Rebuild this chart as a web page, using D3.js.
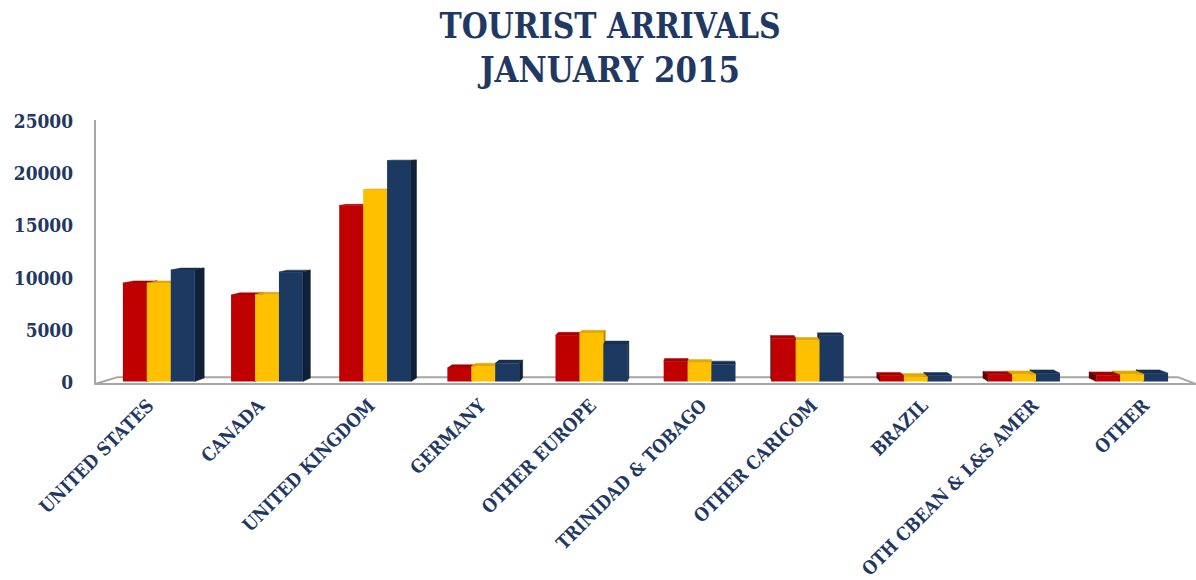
<!DOCTYPE html>
<html>
<head>
<meta charset="utf-8">
<script src="https://cdn.jsdelivr.net/npm/d3@7"></script>
<style>
  body { margin: 0; background: #fff; }
  .chart text { font-family: "DejaVu Serif", serif; font-weight: bold; fill: #1f3864; }
</style>
</head>
<body>
<div class="chart"></div>
<script>
// 資料
const categories = ["UNITED STATES", "CANADA", "UNITED KINGDOM", "GERMANY", "OTHER EUROPE",
  "TRINIDAD & TOBAGO", "OTHER CARICOM", "BRAZIL", "OTH CBEAN & L&S AMER", "OTHER"]
// three series (no legend in the source chart)
const series1 = [9450, 8300, 16900, 1300, 4450, 1900, 4150, 550, 650, 600]
const series2 = [9450, 8350, 18400, 1450, 4650, 1800, 3950, 450, 700, 700]
const series3 = [10700, 10500, 21200, 1750, 3600, 1650, 4400, 550, 800, 800]
const yTicks = [0, 5000, 10000, 15000, 20000, 25000]
const titleLines = ["TOURIST ARRIVALS", "JANUARY 2015"]

const frontColors = ["#c00000", "#ffc000", "#1c3962"]
const topColors = ["#a80000", "#e2a900", "#17304f"]
const sideColors = ["#5e0000", "#b88a00", "#0f2038"]

// squeeze text a bit (the original font is narrower)
function condense(sel, f) {
  sel.each(function () {
    const len = this.getComputedTextLength()
    d3.select(this)
      .attr('textLength', len * f)
      .attr('lengthAdjust', 'spacingAndGlyphs')
  })
}

function drawChart() {
  const svgWidth = 1196
  const svgHeight = 580
  const svg = d3.select('.chart')
    .append('svg')
    .attr('width', svgWidth)
    .attr('height', svgHeight)

  // 標題
  const titleLen = [341, 260]
  svg.append('g').selectAll('text')
    .data(titleLines)
    .enter()
    .append('text')
    .attr('x', 610)
    .attr('y', (d, i) => 37.5 + i * 44.5)
    .attr('text-anchor', 'middle')
    .attr('textLength', (d, i) => titleLen[i])
    .attr('lengthAdjust', 'spacingAndGlyphs')
    .style('font-size', '35px')
    .text(d => d)

  // scales
  const yScale = d3.scaleLinear()
    .domain([0, 25000])
    .range([381.5, 121])

  const xScale = d3.scaleBand()
    .domain(categories)
    .range([95, 1196])
    .paddingInner(0.336)
    .paddingOuter(0.258)

  const sScale = d3.scaleBand()
    .domain([0, 1, 2])
    .range([0, xScale.bandwidth()])

  // 透視 (fake 3D)
  const vx = 708, vy = 121, kx = 0.0185, ky = 0.013
  const back = (x, y, f = 1) => [x + (vx - x) * kx * f, y + (vy - y) * ky * f]

  // floor
  const fy = 384
  const fl = xScale.range()[0], fr = xScale.range()[1]
  const floorPts = [[fl, fy], [fr, fy], back(fr, fy, 2), back(fl, fy, 2)]
  svg.append('polygon')
    .attr('points', floorPts.map(p => p.join(',')).join(' '))
    .attr('fill', '#fff')
    .attr('stroke', '#a6a6a6')
    .attr('stroke-width', 2)
    .attr('stroke-linejoin', 'round')

  // 左邊的軸線
  svg.append('line')
    .attr('x1', fl).attr('x2', fl)
    .attr('y1', yScale(25000) - 1).attr('y2', fy)
    .attr('stroke', '#a6a6a6')
    .attr('stroke-width', 2)

  // Y 軸
  const yAxis = d3.axisLeft(yScale)
    .tickValues(yTicks)
    .tickSize(0)
    .tickPadding(0)
    .tickFormat(d => d)

  const yg = svg.append('g')
    .attr('transform', 'translate(73, 1)')
    .call(yAxis)
  yg.select('.domain').remove()
  yg.selectAll('text')
    .style('font-size', '18px')
    .attr('fill', '#1f3864')
    .call(condense, 0.945)

  // X 軸 labels (labels drift a little to the right, like the perspective floor)
  const labelShift = d3.scaleLinear()
    .domain([159, 1132])
    .range([-4, 18])
  const xAxis = d3.axisBottom(xScale).tickSize(0).tickPadding(0)
  const xg = svg.append('g')
    .attr('transform', 'translate(0, 407)')
    .call(xAxis)
  xg.select('.domain').remove()
  xg.selectAll('text')
    .attr('y', 0)
    .attr('dy', 0)
    .attr('text-anchor', 'end')
    .attr('transform', d => {
      const cx = xScale(d) + xScale.bandwidth() / 2
      return `translate(${labelShift(cx)}, 0) rotate(-45)`
    })
    .attr('fill', '#1f3864')
    .style('font-size', '18.5px')
    .call(condense, 0.88)

  // build bars
  const allSeries = [series1, series2, series3]
  const bars = []
  categories.forEach((c, i) => {
    allSeries.forEach((s, j) => {
      const x0 = xScale(c) + sScale(j)
      const x1 = x0 + sScale.bandwidth()
      const yT = yScale(s[i])
      const yB = yScale(0)
      bars.push({ x0, x1, yT, yB, j })
    })
  })

  const faces = []
  bars.forEach(b => {
    const bl = back(b.x0, b.yT), br = back(b.x1, b.yT)
    const dist = Math.abs((b.x0 + b.x1) / 2 - vx)
    // top
    faces.push({ pts: [[b.x0, b.yT], [b.x1, b.yT], br, bl], fill: topColors[b.j], dist })
    // side
    if (br[0] > b.x1) {
      faces.push({ pts: [[b.x1, b.yT], [b.x1, b.yB], back(b.x1, b.yB), br], fill: sideColors[b.j], dist })
    }
    if (bl[0] < b.x0) {
      faces.push({ pts: [[b.x0, b.yT], [b.x0, b.yB], back(b.x0, b.yB), bl], fill: sideColors[b.j], dist })
    }
  })
  faces.sort((a, b) => b.dist - a.dist)

  svg.append('g')
    .selectAll('polygon')
    .data(faces)
    .enter()
    .append('polygon')
    .attr('points', d => d.pts.map(p => p.join(',')).join(' '))
    .attr('fill', d => d.fill)
    .attr('stroke', d => d.fill)
    .attr('stroke-width', 0.5)

  // 正面
  svg.append('g')
    .selectAll('rect')
    .data(bars)
    .enter()
    .append('rect')
    .attr('x', d => d.x0)
    .attr('y', d => d.yT)
    .attr('width', d => d.x1 - d.x0)
    .attr('height', d => d.yB - d.yT)
    .attr('fill', d => frontColors[d.j])
}

drawChart()
</script>
</body>
</html>
